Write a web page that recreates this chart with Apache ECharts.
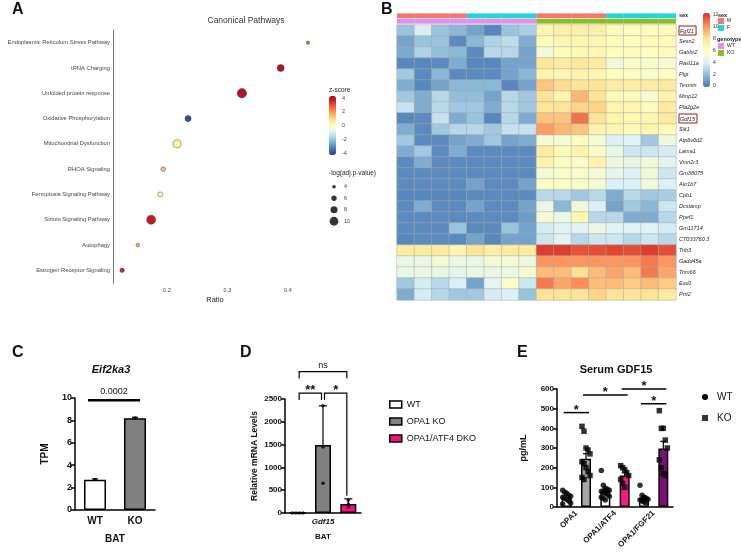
<!DOCTYPE html>
<html><head><meta charset="utf-8">
<script src="https://cdn.jsdelivr.net/npm/echarts@6/dist/echarts.min.js"></script>
<style>html,body{margin:0;padding:0;background:#fff}#c{width:741px;height:557px}</style>
</head><body><div id="c"></div>
<script>
// ---------- Panel A data ----------
const pathways = ['Endoplasmic Reticulum Stress Pathway','tRNA Charging','Unfolded protein response','Oxidative Phosphorylation','Mitochondrial Dysfunction','RHOA Signaling','Ferroptosis Signaling Pathway','Sirtuin Signaling Pathway','Autophagy','Estrogen Receptor Signaling'];
const pathRatio = [0.433,0.388,0.324,0.235,0.217,0.194,0.189,0.174,0.152,0.126];
const pathZ = [2.8,4.0,4.0,-4.0,0.4,1.4,0.2,3.8,1.8,3.6];
const pathLogP = [3.7,8.0,10.7,7.0,9.2,5.4,5.8,10.3,4.0,5.1];
const ratioTicks = [0.2,0.3,0.4];
const sizeLegend = [4,6,8,10];

// ---------- Panel B data ----------
const genes = ['Fgf21','Sesn2','Gabbr2','Rasl11a','Pigr','Tesmin','Mmp12','Pla2g2e','Gdf15','Slit1','Atp6v0d2','Lama1','Vmn2r3','Gm38075','Akr1b7','Cpb1','Dcstamp','Ppef1','Gm11714','CT033760.3','Trib3','Gadd45a','Trim66','Exd1','Prrt2'];
const boxedGenes = ['Fgf21','Gdf15'];
const sexAnno = ['M','M','M','M','F','F','F','F','M','M','M','M','F','F','F','F'];
const genoAnno = ['WT','WT','WT','WT','WT','WT','WT','WT','KO','KO','KO','KO','KO','KO','KO','KO'];
const hmValues = [
 [2,3.7,2,1.6,1,0.2,2,2.5, 6.6,7,7,7,6.2,6.2,6.2,6.3],
 [1,2,2,0.3,1.6,2.6,3,1.3, 6.3,6.6,6.6,6.6,6.1,6.1,6.2,6.2],
 [1.2,2.6,1.8,1.6,0.3,2.8,2.8,1, 5.2,6.3,6.6,6.6,6.1,6.2,6.1,6.2],
 [0.2,0.2,0.3,1.3,0.2,0.2,1,1, 7.6,7.3,7.6,7.3,5,5.5,5.5,5.2],
 [2.2,0.3,1.6,0.3,0.3,0.3,1,1.6, 6.8,6.6,6.8,6.6,6.1,5.8,5.6,6.1],
 [1.3,0.2,1,1.6,1.6,1.6,0.2,1, 8.8,8.2,7.8,7.8,7.2,7.2,7.3,7.4],
 [2.2,1.3,2.8,1.8,1.8,1,2.8,2.2, 7.8,6.8,9.2,7.8,6.2,6.2,5.3,6.8],
 [3.2,1.3,2.8,2.2,2.2,1.3,2.8,2.2, 7.8,7.8,8.4,8.4,6.8,6.8,6.3,7.4],
 [0.2,0.3,3.2,1.3,2,0.2,2.8,1.3, 8.8,8.8,10.8,7.8,6.8,6.6,6.6,7.3],
 [1.3,0.3,2.2,2.8,2.8,2.2,3.2,3.2, 9.8,9.2,8.8,6.8,6.6,6.3,6.8,6.3],
 [2.2,0.3,0.3,1,1.3,2.2,1,1.3, 5.3,5.3,5.8,5.3,3.8,4,2.2,4.8],
 [1.3,2.2,0.3,1.3,0.3,0.3,0.3,0.3, 7.3,6.3,6.8,5.7,4.6,3.4,3.4,3.6],
 [0.3,1.3,0.3,0.3,0.3,0.3,0.3,0.3, 6.8,5.8,5.6,6.8,4.8,4.6,5,4.2],
 [0.3,0.3,0.3,0.3,0.3,0.3,0.3,0.3, 5.2,5.6,5.6,5.2,4.4,3.8,5,3.4],
 [0.3,0.3,0.3,0.3,1,0.3,0.3,1, 5.8,5.8,5.6,5.3,3.8,3.8,5,3.8],
 [0.2,0.2,0.2,0.2,0.3,0.3,0.3,0.3, 2.8,2.8,2.2,2.8,1.3,2.8,2.2,2.4],
 [0.3,1.3,0.3,0.3,1,0.3,0.3,1, 4.6,1.6,5,3.8,1,2.2,1.6,3.4],
 [0.3,0.3,0.3,0.3,0.3,0.3,0.3,0.8, 5.2,4.6,6.6,2.8,2.8,1.3,1.3,2.8],
 [0.3,0.3,0.3,2,0.3,0.3,2,1, 3.6,4,4,4.6,4,4,4,3.6],
 [0.2,0.3,0.3,0.3,1,0.2,1,1, 3.4,4,2.8,3.4,3.4,2.8,3.4,2.8],
 [7.4,7.4,7.4,6.6,7.8,7,7.4,7.4, 12,12,11.5,11.6,11.8,11.6,12,11.6],
 [4.6,4.6,5.2,4.6,4.6,5.2,5.2,4.8, 10,10,10,10,10,10,10.6,10],
 [4.6,4.6,4.6,4.2,4.6,4.6,4.8,5.4, 9,9,8,9,9.6,9,10.6,9.6],
 [2.2,3.6,2.8,3.8,1,4.2,5.6,3.4, 10.6,9.6,10.2,9,9,8.6,9,8.6],
 [1.3,3.6,2.8,2.2,2.2,3.6,3.8,2, 7.8,7.8,7.8,8.4,7.8,7.8,7.8,7.4]
];

// ---------- Panel C data ----------
const cCats = ['WT','KO'];
const cMean = [2.7, 8.2];
const cErr = [0.08, 0.08];
const cPts = [[2.72],[8.22]];
const cSig = [[0,1,9.8]];
const cSigLabel = ['0.0002'];

// ---------- Panel D data ----------
const dGroups = ['WT','OPA1 KO','OPA1/ATF4 DKO'];
const dMean = [2, 1490, 200];
const dErr = [1, 860, 110];
const dPts = [[0,0,0,0],[2350,1450,650],[280,190,130]];
const dBrackets = [[0,2,3100,2950,2950],[0,1,2630,2480,2480],[1,2,2630,2480,380]];
const dBracketLabel = ['ns','**','*'];

// ---------- Panel E data ----------
const eGroups = ['OPA1','OPA1/ATF4','OPA1/FGF21'];
const eWTMean = [50, 80, 46];
const eWTErr = [7, 11, 9];
const eKOMean = [245, 160, 298];
const eKOErr = [26, 14, 36];
const eWTPts = [[85,75,70,60,55,50,45,40,30,20,15],[185,110,95,90,85,80,75,70,65,55,50,45,35],[110,60,50,45,40,35,30,25,20]];
const eKOPts = [[410,385,300,290,270,230,220,200,180,160,150,140],[210,200,190,175,160,140,120,100],[490,400,400,340,300,240,200,170,160]];
const eSig = [[0,1,480],[1,3,570],[3,5,600],[4,5,525]];

// ---------- styles ----------
const FONT = 'Liberation Sans, Arial, sans-serif';
const rdylbu = ['#313695','#4575b4','#74add1','#abd9e9','#e0f3f8','#ffffbf','#fee090','#fdae61','#f46d43','#d73027','#a50026'];
const hmColors = ['#4575B4','#91BFDB','#E0F3F8','#FFFFBF','#FEE090','#FC8D59','#D73027'];
const annoColors = {M:'#F8766D', F:'#1ED6DE', WT:'#E28FF2', KO:'#86C11E'};
const eKOColors = ['#a6a6a6','#ff1886','#7d0d7b'];
const dColors = ['#ffffff','#808080','#ff0a80'];

const grids=[], xAxes=[], yAxes=[], series=[], visualMaps=[];
function addGrid(g){ grids.push(g); return grids.length-1; }
function addSeries(s){ series.push(s); return series.length-1; }
const hidden = {show:false};
const blk = {color:'#000', width:1.5};

// ---- Panel A ----
const gA = addGrid({left:113, top:30, width:204, height:253});
xAxes.push({gridIndex:gA, type:'value', min:0.111, max:0.448, splitLine:hidden,
  axisLine:{lineStyle:{color:'#777', width:1}},
  axisTick:{length:2, customValues:ratioTicks, lineStyle:{color:'#777'}},
  axisLabel:{customValues:ratioTicks, fontSize:5.5, color:'#444', margin:4, formatter:v=>v.toFixed(1)},
  name:'Ratio', nameLocation:'middle', nameGap:13, nameTextStyle:{fontSize:7.5, color:'#222'}});
yAxes.push({gridIndex:gA, type:'category', data:pathways, inverse:true,
  axisLine:{lineStyle:{color:'#777', width:1}}, axisTick:{length:2, alignWithLabel:true, lineStyle:{color:'#777'}},
  axisLabel:{fontSize:5.8, color:'#444', margin:3}});
const sA = addSeries({type:'scatter', xAxisIndex:xAxes.length-1, yAxisIndex:yAxes.length-1,
  data: pathways.map((p,i)=>[pathRatio[i], p, pathZ[i], pathLogP[i]]),
  symbolSize: v=>v[3]*0.88, itemStyle:{borderColor:'#444', borderWidth:0.5, opacity:1}});
visualMaps.push({type:'continuous', seriesIndex:sA, dimension:2, min:-4.3, max:4.3, inRange:{color:rdylbu},
  left:329, top:96, itemWidth:7, itemHeight:59, padding:0, calculable:false});
// z-score tick labels
const gZ = addGrid({left:329, top:98, width:7, height:55});
xAxes.push({gridIndex:gZ, type:'value', show:false, min:0, max:1});
yAxes.push({gridIndex:gZ, type:'value', min:-4, max:4, interval:2, position:'right', axisLine:hidden, axisTick:hidden, splitLine:hidden,
  axisLabel:{fontSize:5.5, color:'#444', margin:6}});
addSeries({type:'scatter', xAxisIndex:xAxes.length-1, yAxisIndex:yAxes.length-1, data:[]});
// size legend
const gS = addGrid({left:329, top:181, width:10, height:46});
xAxes.push({gridIndex:gS, type:'value', show:false, min:-1, max:1});
yAxes.push({gridIndex:gS, type:'category', data:sizeLegend.map(String), inverse:true, position:'right',
  axisLine:hidden, axisTick:hidden, axisLabel:{fontSize:5.5, color:'#444', margin:5}});
addSeries({type:'scatter', xAxisIndex:xAxes.length-1, yAxisIndex:yAxes.length-1,
  data: sizeLegend.map(s=>[0, String(s), s]), symbolSize:v=>v[2]*0.88, itemStyle:{color:'#000'}});

// ---- Panel B ----
const colIdx = sexAnno.map((_,i)=>String(i));
const gAn = addGrid({left:397, top:13, width:279, height:11});
xAxes.push({gridIndex:gAn, type:'category', data:colIdx, show:false});
yAxes.push({gridIndex:gAn, type:'category', data:['sex','genotype'], inverse:true, position:'right',
  axisLine:hidden, axisTick:hidden, axisLabel:{fontSize:5.5, fontWeight:'bold', color:'#222', margin:3}});
const annoData = [];
sexAnno.forEach((s,i)=>annoData.push([i,0,s]));
genoAnno.forEach((g,i)=>annoData.push([i,1,g]));
addSeries({type:'custom', xAxisIndex:xAxes.length-1, yAxisIndex:yAxes.length-1, clip:false,
  data: annoData.map(d=>[d[0],d[1]]),
  renderItem:(params, api)=>{
    const p = api.coord([api.value(0), api.value(1)]); const s = api.size([1,1]);
    return {type:'rect', shape:{x:p[0]-s[0]/2, y:p[1]-s[1]/2+0.4, width:s[0], height:s[1]-0.8},
      style:{fill:annoColors[annoData[params.dataIndex][2]], stroke:'rgba(150,150,150,0.35)', lineWidth:0.3}};
  }});
const gB = addGrid({left:397, top:25, width:279, height:275});
xAxes.push({gridIndex:gB, type:'category', data:colIdx, show:false});
yAxes.push({gridIndex:gB, type:'category', data:genes, inverse:true, position:'right',
  axisLine:hidden, axisTick:hidden,
  axisLabel:{fontSize:5.5, fontStyle:'italic', color:'#222', margin:3,
    formatter:v=> boxedGenes.includes(v) ? '{b|'+v+'}' : v,
    rich:{b:{fontSize:5.5, fontStyle:'italic', color:'#222', borderColor:'#a3161c', borderWidth:1, padding:[2,2,1,1]}}}});
const sB = addSeries({type:'heatmap', xAxisIndex:xAxes.length-1, yAxisIndex:yAxes.length-1,
  data: genes.flatMap((g,r)=>hmValues[r].map((v,c)=>[c,r,v])),
  itemStyle:{borderColor:'#a8a8a8', borderWidth:0.5}});
visualMaps.push({type:'continuous', seriesIndex:sB, dimension:2, min:-0.3, max:12.3, inRange:{color:hmColors},
  left:703, top:13, itemWidth:7, itemHeight:74, padding:0, calculable:false});
const gHT = addGrid({left:703, top:15, width:7, height:71});
xAxes.push({gridIndex:gHT, type:'value', show:false, min:0, max:1});
yAxes.push({gridIndex:gHT, type:'value', min:0, max:12, interval:2, position:'right', axisLine:hidden, axisTick:hidden, splitLine:hidden,
  axisLabel:{fontSize:5, color:'#333', margin:3}});
addSeries({type:'scatter', xAxisIndex:xAxes.length-1, yAxisIndex:yAxes.length-1, data:[]});

// ---- helpers for bar charts ----
function errRender(getData, capW){
  return (params, api)=>{
    const d = getData(params.dataIndex);
    const top = api.coord([d[0], d[1]+d[2]]), bot = api.coord([d[0], d[1]-d[2]]);
    return {type:'group', children:[
      {type:'line', shape:{x1:top[0], y1:top[1], x2:bot[0], y2:bot[1]}, style:{stroke:'#000', lineWidth:1.2}},
      {type:'line', shape:{x1:top[0]-capW/2, y1:top[1], x2:top[0]+capW/2, y2:top[1]}, style:{stroke:'#000', lineWidth:1.2}}
    ]};
  };
}
function jitter(i){ return ((i%5)-2)*2; }

// ---- Panel C ----
const gC = addGrid({left:75, top:398, width:80, height:112});
xAxes.push({gridIndex:gC, type:'category', data:cCats, axisLine:{lineStyle:blk}, axisTick:{alignWithLabel:true, length:4, lineStyle:blk},
  axisLabel:{fontSize:10, fontWeight:'bold', color:'#111', margin:6},
  name:'BAT', nameLocation:'middle', nameGap:24, nameTextStyle:{fontSize:10, fontWeight:'bold', color:'#111'}});
yAxes.push({gridIndex:gC, type:'value', min:0, max:10, interval:2, splitLine:hidden, axisLine:{show:true, lineStyle:blk},
  axisTick:{show:true, length:4, lineStyle:blk}, axisLabel:{fontSize:9, fontWeight:'bold', color:'#111', margin:3},
  name:'TPM', nameLocation:'middle', nameGap:25, nameTextStyle:{fontSize:10, fontWeight:'bold', color:'#111'}});
const cx = xAxes.length-1, cy = yAxes.length-1;
addSeries({type:'bar', xAxisIndex:cx, yAxisIndex:cy, barWidth:22,
  data: cMean.map((v,i)=>({value:v, itemStyle:{color: i===0?'#ffffff':'#808080', borderColor:'#000', borderWidth:1.5}}))});
addSeries({type:'custom', xAxisIndex:cx, yAxisIndex:cy, clip:false, data:cMean.map((v,i)=>[i,v]),
  renderItem: errRender(i=>[i, cMean[i], cErr[i]], 6)});
addSeries({type:'scatter', xAxisIndex:cx, yAxisIndex:cy, symbolSize:3.5, itemStyle:{color:'#000'},
  data: cPts.flatMap((arr,g)=>arr.map(v=>[g,v]))});
addSeries({type:'custom', xAxisIndex:cx, yAxisIndex:cy, clip:false, data:cSig.map(s=>[s[0],s[2]]),
  renderItem:(params, api)=>{
    const s = cSig[params.dataIndex];
    const a = api.coord([s[0], s[2]]), b = api.coord([s[1], s[2]]);
    return {type:'group', children:[
      {type:'line', shape:{x1:a[0]-7, y1:a[1], x2:b[0]+5, y2:b[1]}, style:{stroke:'#000', lineWidth:2.5}},
      {type:'text', x:(a[0]+b[0])/2-1, y:a[1]-4, style:{text:cSigLabel[params.dataIndex], font:'9px '+FONT, fill:'#111', align:'center', verticalAlign:'bottom'}}
    ]};
  }});

// ---- Panel D ----
const gD = addGrid({left:285, top:399, width:76, height:114});
xAxes.push({gridIndex:gD, type:'category', data:dGroups, axisLine:{lineStyle:blk}, axisTick:hidden, axisLabel:hidden});
xAxes.push({gridIndex:gD, type:'category', data:['Gdf15'], position:'bottom', axisLine:hidden,
  axisTick:{alignWithLabel:true, length:4, lineStyle:blk},
  axisLabel:{fontSize:8, fontWeight:'bold', fontStyle:'italic', color:'#111', margin:5},
  name:'BAT', nameLocation:'middle', nameGap:20, nameTextStyle:{fontSize:8, fontWeight:'bold', color:'#111'}});
yAxes.push({gridIndex:gD, type:'value', min:0, max:2500, interval:500, splitLine:hidden, axisLine:{show:true, lineStyle:blk},
  axisTick:{show:true, length:4, lineStyle:blk}, axisLabel:{fontSize:8, fontWeight:'bold', color:'#111', margin:3, formatter:v=>String(v)},
  name:'Relative mRNA Levels', nameLocation:'middle', nameGap:26, nameTextStyle:{fontSize:8.5, fontWeight:'bold', color:'#111'}});
const dx = xAxes.length-2, dy = yAxes.length-1;
dGroups.forEach((g,i)=>{
  addSeries({type:'bar', name:g, xAxisIndex:dx, yAxisIndex:dy, stack:'d', barWidth:16,
    itemStyle:{color:dColors[i], borderColor:'#000', borderWidth:1.5},
    data: dGroups.map((_,j)=> j===i ? dMean[i] : '-')});
});
addSeries({type:'custom', xAxisIndex:dx, yAxisIndex:dy, clip:false, data:dMean.map((v,i)=>[i,v]),
  renderItem: errRender(i=>[i, dMean[i], dErr[i]], 8)});
addSeries({type:'scatter', xAxisIndex:dx, yAxisIndex:dy, symbolSize:3.5, itemStyle:{color:'#000'},
  data: dPts.flatMap((arr,g)=>arr.map((v,k)=>({value:[g,v], symbolOffset:[g===0 ? (k-1.5)*3.5 : 0, 0]})))});
addSeries({type:'custom', xAxisIndex:dx, yAxisIndex:dy, clip:false, data:dBrackets.map(b=>[b[0],b[2]]),
  renderItem:(params, api)=>{
    const b = dBrackets[params.dataIndex];
    const a = api.coord([b[0], b[2]]), c = api.coord([b[1], b[2]]);
    const la = api.coord([b[0], b[3]]), lc = api.coord([b[1], b[4]]);
    const x1 = a[0]+1.5, x2 = c[0]-1.5;
    const lab = dBracketLabel[params.dataIndex];
    const isNs = lab==='ns';
    return {type:'group', children:[
      {type:'polyline', shape:{points:[[x1,la[1]],[x1,a[1]],[x2,c[1]],[x2,lc[1]]]}, style:{stroke:'#000', lineWidth:1.2, fill:null}},
      {type:'text', x:(x1+x2)/2, y:a[1]+(isNs?-2:4), style:{text:lab, font:(isNs?'':'bold ')+(isNs?'9px ':'13px ')+FONT, fill:'#111', align:'center', verticalAlign:'bottom'}}
    ]};
  }});

// ---- Panel E ----
const eCats6 = eGroups.flatMap(g=>[g+' WT', g+' KO']);
const gE = addGrid({left:557, top:389, width:116, height:118});
xAxes.push({gridIndex:gE, type:'category', data:eCats6, axisLine:{lineStyle:blk}, axisTick:hidden, axisLabel:hidden});
xAxes.push({gridIndex:gE, type:'category', data:eGroups, position:'bottom', axisLine:hidden,
  axisTick:{alignWithLabel:true, length:4, lineStyle:blk},
  axisLabel:{fontSize:8, fontWeight:'bold', color:'#111', rotate:45, margin:5}});
yAxes.push({gridIndex:gE, type:'value', min:0, max:600, interval:100, splitLine:hidden, axisLine:{show:true, lineStyle:blk},
  axisTick:{show:true, length:4, lineStyle:blk}, axisLabel:{fontSize:8, fontWeight:'bold', color:'#111', margin:3},
  name:'pg/mL', nameLocation:'middle', nameGap:29, nameTextStyle:{fontSize:9, fontWeight:'bold', color:'#111'}});
const ex = xAxes.length-2, ey = yAxes.length-1;
const eMeans6 = eGroups.flatMap((g,i)=>[eWTMean[i], eKOMean[i]]);
const eErr6 = eGroups.flatMap((g,i)=>[eWTErr[i], eKOErr[i]]);
addSeries({type:'bar', name:'Serum GDF15', xAxisIndex:ex, yAxisIndex:ey, barWidth:10,
  data: eMeans6.map((v,i)=>({value:v, itemStyle:{color: i%2===0 ? '#ffffff' : eKOColors[(i-1)/2], borderColor:'#000', borderWidth:1.5}}))});
addSeries({type:'custom', xAxisIndex:ex, yAxisIndex:ey, clip:false, data:eMeans6.map((v,i)=>[i,v]),
  renderItem: errRender(i=>[i, eMeans6[i], eErr6[i]], 6)});
addSeries({type:'scatter', name:'WT', xAxisIndex:ex, yAxisIndex:ey, symbol:'circle', symbolSize:5.5, itemStyle:{color:'#000'},
  data: eWTPts.flatMap((arr,g)=>arr.map((v,k)=>({value:[2*g, v], symbolOffset:[jitter(k),0]})))});
addSeries({type:'scatter', name:'KO', xAxisIndex:ex, yAxisIndex:ey, symbol:'rect', symbolSize:5.5, itemStyle:{color:'#000'},
  data: eKOPts.flatMap((arr,g)=>arr.map((v,k)=>({value:[2*g+1, v], symbolOffset:[jitter(k),0]})))});
addSeries({type:'custom', xAxisIndex:ex, yAxisIndex:ey, clip:false, data:eSig.map(s=>[s[0],s[2]]),
  renderItem:(params, api)=>{
    const s = eSig[params.dataIndex];
    const a = api.coord([s[0], s[2]]), b = api.coord([s[1], s[2]]);
    return {type:'group', children:[
      {type:'line', shape:{x1:a[0]-3, y1:a[1], x2:b[0]+3, y2:b[1]}, style:{stroke:'#000', lineWidth:1.5}},
      {type:'text', x:(a[0]+b[0])/2, y:a[1]+4, style:{text:'*', font:'bold 13px '+FONT, fill:'#111', align:'center', verticalAlign:'bottom'}}
    ]};
  }});

// ---- free texts ----
function txt(x,y,t,font,align){ return {type:'text', x:x, y:y, style:{text:t, font:font, fill:'#111', align:align||'left', verticalAlign:'middle'}}; }
const graphics = [
  txt(12,10,'A','bold 16px '+FONT), txt(381,10,'B','bold 16px '+FONT),
  txt(12,353,'C','bold 16px '+FONT), txt(240,353,'D','bold 16px '+FONT), txt(517,353,'E','bold 16px '+FONT),
  {type:'text', x:246, y:21, style:{text:'Canonical Pathways', font:'8.5px '+FONT, fill:'#333', align:'center', verticalAlign:'middle'}},
  {type:'text', x:329, y:90, style:{text:'z-score', font:'6.5px '+FONT, fill:'#222', align:'left', verticalAlign:'middle'}},
  {type:'text', x:329, y:173, style:{text:'-log(adj.p-value)', font:'6.5px '+FONT, fill:'#222', align:'left', verticalAlign:'middle'}},
  {type:'text', x:111, y:370, style:{text:'Eif2ka3', font:'italic bold 11px '+FONT, fill:'#111', align:'center', verticalAlign:'middle'}},
  {type:'text', x:616, y:370, style:{text:'Serum GDF15', font:'bold 11px '+FONT, fill:'#111', align:'center', verticalAlign:'middle'}},
  // annotation legend
  {type:'text', x:718, y:15, style:{text:'sex', font:'bold 5.5px '+FONT, fill:'#222', verticalAlign:'middle'}},
  {type:'rect', shape:{x:718, y:18, width:6, height:6}, style:{fill:annoColors.M}},
  {type:'text', x:727, y:21, style:{text:'M', font:'5px '+FONT, fill:'#222', verticalAlign:'middle'}},
  {type:'rect', shape:{x:718, y:25, width:6, height:6}, style:{fill:annoColors.F}},
  {type:'text', x:727, y:28, style:{text:'F', font:'5px '+FONT, fill:'#222', verticalAlign:'middle'}},
  {type:'text', x:717, y:39, style:{text:'genotype', font:'bold 5.5px '+FONT, fill:'#222', verticalAlign:'middle'}},
  {type:'rect', shape:{x:718, y:43, width:6, height:6}, style:{fill:annoColors.WT}},
  {type:'text', x:727, y:46, style:{text:'WT', font:'5px '+FONT, fill:'#222', verticalAlign:'middle'}},
  {type:'rect', shape:{x:718, y:50, width:6, height:6}, style:{fill:annoColors.KO}},
  {type:'text', x:727, y:53, style:{text:'KO', font:'5px '+FONT, fill:'#222', verticalAlign:'middle'}}
];

const chart = echarts.init(document.getElementById('c'), null, {renderer:'canvas'});
chart.setOption({
  animation:false,
  backgroundColor:'#ffffff',
  textStyle:{fontFamily:FONT},
  grid: grids, xAxis: xAxes, yAxis: yAxes, series: series, visualMap: visualMaps,
  legend:[
    {data: dGroups.map((g,i)=>({name:g, icon:'rect', itemStyle:{color:dColors[i], borderColor:'#000', borderWidth:1.5}})),
     orient:'vertical', left:389, top:400, itemWidth:12, itemHeight:7, itemGap:8, padding:0, selectedMode:false,
     textStyle:{fontSize:9, color:'#111'}},
    {data:[{name:'WT', icon:'circle', itemStyle:{color:'#000', borderWidth:0}}, {name:'KO', icon:'rect', itemStyle:{color:'#000', borderWidth:0}}],
     orient:'vertical', left:702, top:392, itemWidth:6, itemHeight:6, itemGap:11, padding:0, selectedMode:false,
     textStyle:{fontSize:10, color:'#111', padding:[0,0,0,4]}}
  ],
  graphic: graphics
});
</script></body></html>
